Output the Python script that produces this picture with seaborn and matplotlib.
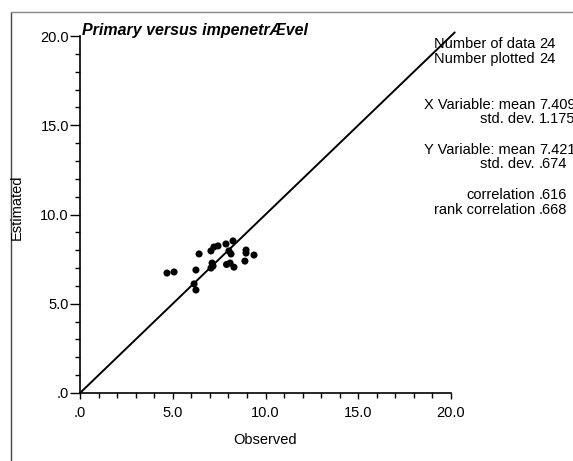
import matplotlib
matplotlib.use('Agg')
import matplotlib.pyplot as plt
from matplotlib.ticker import MultipleLocator, FuncFormatter
from matplotlib.lines import Line2D
import seaborn as sns
import pandas as pd

# observed / estimated values
observed = [4.69, 5.07, 6.42, 6.25, 6.15, 6.25, 7.06, 7.22, 7.44, 7.12, 7.17, 7.06,
            7.87, 8.25, 8.03, 8.14, 8.09, 8.95, 8.95, 9.38, 8.89, 7.15, 7.90, 8.30]
estimated = [6.72, 6.78, 7.79, 6.89, 6.11, 5.77, 7.96, 8.18, 8.24, 7.28, 7.11, 7.00,
             8.35, 8.52, 7.96, 7.79, 7.28, 8.01, 7.84, 7.73, 7.39, 7.15, 7.20, 7.05]
axis_ticks = [0, 5, 10, 15, 20]
stat_labels = ['Number of data', 'Number plotted', 'X Variable: mean', 'std. dev.',
               'Y Variable: mean', 'std. dev.', 'correlation', 'rank correlation']
stat_values = ['24', '24', '7.409', '1.175', '7.421', '.674', '.616', '.668']
stat_rows_px = [44, 59, 105, 119, 150, 164, 195, 210]

df = pd.DataFrame({'Observed': observed, 'Estimated': estimated})

sns.set_style('ticks')
plt.rcParams['font.family'] = ['Liberation Sans', 'DejaVu Sans']
plt.rcParams['text.color'] = 'black'
plt.rcParams['xtick.color'] = 'black'
plt.rcParams['ytick.color'] = 'black'
plt.rcParams['axes.edgecolor'] = 'black'
plt.rcParams['axes.labelcolor'] = 'black'

W, H = 573, 461
fig = plt.figure(figsize=(W / 100, H / 100), dpi=100)
ax = fig.add_axes([80 / W, 1 - 393 / H, 371 / W, 357 / H])

sns.scatterplot(data=df, x='Observed', y='Estimated', color='black', s=26,
                edgecolor='none', ax=ax, clip_on=False, zorder=3)
ax.plot([0, 20.2], [0, 20.2], color='black', lw=1.4, clip_on=False)

ax.set_xlim(0, 20)
ax.set_ylim(0, 20)
ax.set_xticks(axis_ticks)
ax.set_yticks(axis_ticks)
fmt = FuncFormatter(lambda v, p: '.0' if v == 0 else f'{v:.1f}')
ax.xaxis.set_major_formatter(fmt)
ax.yaxis.set_major_formatter(fmt)
ax.xaxis.set_minor_locator(MultipleLocator(1))
ax.yaxis.set_minor_locator(MultipleLocator(1))
ax.tick_params(which='both', direction='out', width=1, labelsize=10.5)
ax.tick_params(axis='y', which='major', length=7.5, pad=0.5)
ax.tick_params(axis='y', which='minor', length=3.5)
ax.tick_params(axis='x', which='major', length=4.5, pad=5)
ax.tick_params(axis='x', which='minor', length=3.5)
sns.despine(ax=ax)
for sp in ['left', 'bottom']:
    ax.spines[sp].set_linewidth(1.2)

ax.set_xlabel('Observed', fontsize=10.5)
ax.xaxis.set_label_coords((265 - 80) / 371, -(433 - 393) / 357)
ax.set_ylabel('')
fig.text(17 / W, 1 - 207 / H, 'Estimated', rotation=90, fontsize=10.5,
         ha='center', va='center')

fig.text(82 / W, 1 - 35 / H, 'Primary versus impenetrÆvel', fontsize=11.5,
         fontweight='bold', fontstyle='italic', ha='left', va='baseline')

# outer frame (left and top edges)
fig.add_artist(Line2D([11 / W, 11 / W], [0, 1 - 12 / H], color='#444444', lw=1,
                      transform=fig.transFigure))
fig.add_artist(Line2D([11 / W, 1], [1 - 12 / H, 1 - 12 / H], color='#888888', lw=1,
                      transform=fig.transFigure))

for lab, val, ypx in zip(stat_labels, stat_values, stat_rows_px):
    fig.text(535 / W, 1 - ypx / H, lab, fontsize=10.5, ha='right', va='center')
    fig.text(539 / W, 1 - ypx / H, val, fontsize=10.5, ha='left', va='center')

fig.savefig('out.png', dpi=100)
